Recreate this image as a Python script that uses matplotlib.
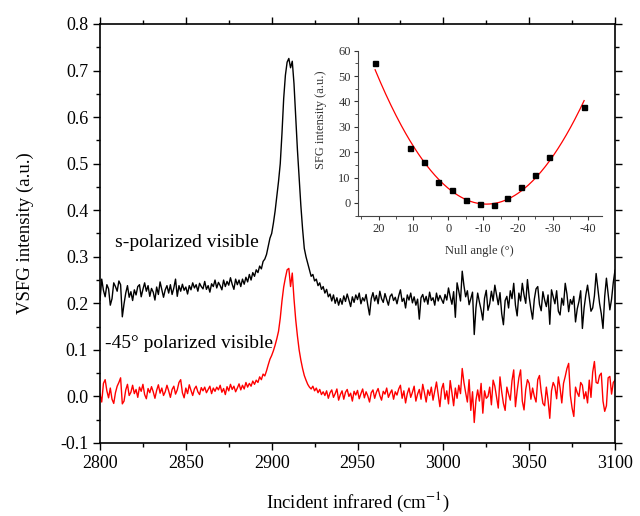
import numpy as np
import matplotlib.pyplot as plt
from matplotlib.ticker import MultipleLocator

plt.rcParams['font.family'] = ['Liberation Serif', 'DejaVu Serif']
plt.rcParams['mathtext.fontset'] = 'stix'
plt.rcParams['axes.unicode_minus'] = False

# spectra, 1 cm-1 step, values in 1e-3 a.u.
wavenumber = np.arange(2800, 3101)
s_pol = np.array([
    207, 252, 228, 214, 240, 231, 196, 210, 244, 236,
    226, 248, 240, 171, 199, 222, 238, 213, 225, 206,
    229, 218, 236, 240, 214, 230, 244, 226, 238, 215,
    232, 224, 207, 235, 219, 246, 230, 213, 229, 238,
    222, 240, 219, 233, 252, 215, 238, 226, 241, 228,
    235, 220, 238, 229, 244, 233, 240, 226, 243, 236,
    231, 247, 230, 238, 224, 242, 236, 250, 233, 245,
    238, 229, 250, 236, 247, 239, 255, 241, 230, 252,
    240, 250, 236, 252, 241, 256, 246, 262, 250, 266,
    258, 272, 266, 280, 274, 290, 295, 305, 322, 340,
    350, 372, 398, 430, 462, 500, 565, 640, 690, 718,
    726, 706, 720, 672, 600, 530, 470, 410, 360, 318,
    300, 286, 272, 258, 262, 248, 252, 238, 244, 230,
    236, 222, 230, 214, 220, 205, 218, 200, 212, 196,
    210, 198, 216, 204, 220, 207, 193, 214, 202, 218,
    208, 222, 199, 212, 205, 219, 196, 175, 210, 223,
    205, 217, 199, 226, 210, 202, 221, 208, 196, 215,
    220, 206, 213, 199, 216, 229, 204, 211, 190, 218,
    207, 222, 201, 214, 196, 209, 166, 212, 219, 203,
    215, 198, 224, 206, 212, 196, 222, 205, 217, 208,
    200, 219, 207, 233, 214, 198, 225, 170, 244, 226,
    205, 269, 238, 214, 227, 197, 210, 224, 133, 190,
    222, 203, 186, 164, 211, 228, 185, 199, 226, 205,
    239, 218, 197, 223, 178, 154, 206, 215, 190, 227,
    210, 243, 196, 173, 222, 205, 243, 218, 200, 251,
    214, 188, 166, 209, 231, 236, 198, 184, 225, 207,
    193, 218, 155, 229, 214, 199, 227, 183, 175, 211,
    196, 243, 220, 182, 208, 198, 215, 160, 188, 204,
    227, 146, 190, 218, 239, 212, 183, 190, 216, 264,
    232, 200, 178, 146, 215, 254, 221, 186, 209, 245,
    271]) / 1000.0
m45_pol = np.array([
    5, -12, 28, 36, 12, -3, 18, -6, -15, 8,
    22, 30, 40, -16, -10, 14, 26, 2, 9, 24,
    6, 15, -2, 20, 11, 26, 4, -5, 17, 8,
    21, 10, -4, 13, 25, 7, 18, 2, 10, 24,
    12, -2, 15, 22, 5, 14, 30, 36, 8, -3,
    18, 6, 25, 13, 2, 16, 22, 10, 4, 19,
    12, 20, 8, 15, 22, 6, 18, 11, 20, 14,
    24, 9, 17, 4, 21, 12, 26, 15, 22, 10,
    18, 27, 14, 24, 16, 30, 20, 28, 22, 33,
    26, 35, 30, 42, 36, 48, 44, 55, 68, 80,
    88, 98, 110, 124, 140, 168, 205, 235, 255, 272,
    275, 236, 265, 210, 165, 130, 100, 78, 60, 45,
    35, 26, 20, 16, 22, 12, 18, 8, 15, 4,
    10, 2, 12, -4, 8, 14, -2, 6, 16, -8,
    4, 12, -6, 9, 15, 0, 7, -10, 11, 3,
    13, -5, 6, 16, -3, 10, 1, -12, 8, 14,
    -4, 9, 17, 2, -8, 11, 5, 18, -2, 7,
    14, -6, 10, 3, 16, 24, -4, 12, -14, 6,
    18, -2, 9, 22, -10, 5, 15, -6, 26, 8,
    -12, 14, 2, 20, -8, 11, 31, 4, -22, 16,
    28, -6, 12, -16, 34, 8, -20, 18, -4, 24,
    6, 60, 30, 8, -12, 36, -30, 10, -56, -8,
    14, -10, 28, -36, 12, -4, 0, 20, -18, 35,
    22, -2, -25, 42, 10, -15, -30, 20, 5, -8,
    34, 57, -22, 12, 40, 57, -10, -29, 15, 36,
    28, -6, 18, 0, -12, 36, 45, 10, -15, -20,
    20, -8, -47, 12, 30, 21, -5, 42, 18, -14,
    28, 43, 60, 71, 2, -25, -43, 20, 8, 0,
    30, 24, -5, 10, -14, 35, -2, 52, 75, 30,
    28, 45, 50, -10, -32, -20, 40, 43, 5, 30,
    35]) / 1000.0

# inset: SFG intensity vs null angle
null_angle = [21, 11, 7, 3, -1, -5, -9, -13, -17, -21, -25, -29, -39]
sfg_int = [55.1, 21.5, 16.3, 8.2, 5.1, 1.1, -0.5, -0.9, 2.0, 6.2, 11.2, 18.3, 37.8]

fig = plt.figure(figsize=(6.4, 5.16), dpi=100)
ax = fig.add_axes([0.15625, 0.1415, 0.8047, 0.812])
ax.plot(wavenumber, s_pol, color='black', lw=1.0)
ax.plot(wavenumber, m45_pol, color='red', lw=1.0)
ax.set_xlim(2800, 3100)
ax.set_ylim(-0.1, 0.8)
ax.xaxis.set_major_locator(MultipleLocator(50))
ax.xaxis.set_minor_locator(MultipleLocator(25))
ax.yaxis.set_major_locator(MultipleLocator(0.1))
ax.yaxis.set_minor_locator(MultipleLocator(0.05))
ax.yaxis.set_major_formatter(plt.FormatStrFormatter('%.1f'))
ax.tick_params(which='both', direction='out', labelsize=13, width=1.0, top=True, right=True)
ax.tick_params(which='major', length=5)
ax.tick_params(which='minor', length=3)
for s in ax.spines.values():
    s.set_linewidth(1.2)
ax.set_xlabel(r'Incident infrared (cm$^{-1}$)', fontsize=13.5)
ax.set_ylabel('VSFG intensity (a.u.)', fontsize=13.5)
ax.xaxis.set_label_coords(0.5, -0.112)
ax.yaxis.set_label_coords(-0.128, 0.5)
ax.text(2809, 0.33, 's-polarized visible', fontsize=14, va='center')
ax.text(2803, 0.114, '-45\u00b0 polarized visible', fontsize=14, va='center')

# inset
ins = fig.add_axes([0.5589, 0.582, 0.381, 0.3198])
coef = np.polyfit(null_angle, sfg_int, 2)
xf = np.linspace(21, -39, 200)
ins.plot(xf, np.polyval(coef, xf), color='red', lw=0.9)
ins.plot(null_angle, sfg_int, 's', color='black', ms=3.6)
ins.set_xlim(26, -44)
ins.set_ylim(-5, 60)
ins.xaxis.set_major_locator(MultipleLocator(10))
ins.xaxis.set_minor_locator(MultipleLocator(5))
ins.yaxis.set_major_locator(MultipleLocator(10))
ins.yaxis.set_minor_locator(MultipleLocator(5))
ins.spines['top'].set_visible(False)
ins.spines['right'].set_visible(False)
for s in ['left', 'bottom']:
    ins.spines[s].set_color('#444444')
ins.tick_params(which='both', direction='out', labelsize=9, colors='#333333', pad=2)
ins.tick_params(which='major', length=3)
ins.tick_params(which='minor', length=2)
ins.set_xlabel('Null angle (\u00b0)', fontsize=9, color='#333333')
ins.set_ylabel('SFG intensity (a.u.)', fontsize=9, color='#333333')
ins.xaxis.set_label_coords(0.5, -0.178)
ins.yaxis.set_label_coords(-0.126, 0.58)

fig.savefig('out.png', dpi=100)
